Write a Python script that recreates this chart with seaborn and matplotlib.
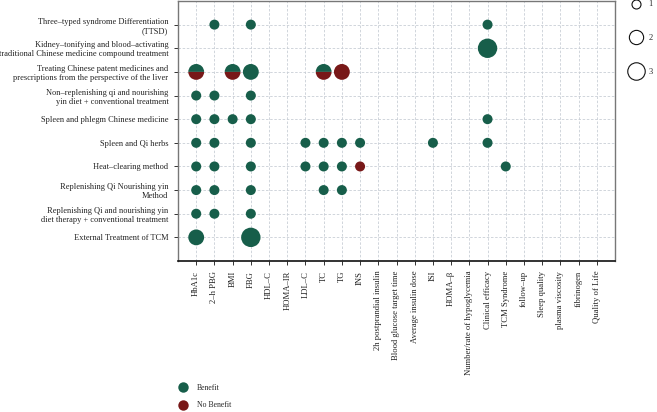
import numpy as np
import pandas as pd
import seaborn as sns
import matplotlib.pyplot as plt
from matplotlib.markers import MarkerStyle
from matplotlib.lines import Line2D

# ---------------- data ----------------
treatments = [
    "Three–typed syndrome Differentiation\n(TTSD)",
    "Kidney–tonifying and blood–activating\ntraditional Chinese medicine compound treatment",
    "Treating Chinese patent medicines and\nprescriptions from the perspective of the liver",
    "Non–replenishing qi and nourishing\nyin diet + conventional treatment",
    "Spleen and phlegm Chinese medicine",
    "Spleen and Qi herbs",
    "Heat–clearing method",
    "Replenishing Qi Nourishing yin\nMethod",
    "Replenishing Qi and nourishing yin\ndiet therapy + conventional treatment",
    "External Treatment of TCM",
]
outcomes = [
    "HbA1c", "2–h PBG", "BMI", "FBG", "HDL–C", "HOMA–IR", "LDL–C", "TC", "TG", "INS",
    "2h postprandial insulin", "Blood glucose target time", "Average insulin dose", "ISI",
    "HOMA–β", "Number/rate of hypoglycemia", "Clinical efficacy", "TCM Syndrome",
    "follow–up", "Sleep quality", "plasma viscosity", "fibrinogen", "Quality of Life",
]

# observations: treatment index, outcome name, number of benefit / no-benefit studies
obs_treatment = [0, 0, 0,
                 1,
                 2, 2, 2, 2, 2,
                 3, 3, 3,
                 4, 4, 4, 4, 4,
                 5, 5, 5, 5, 5, 5, 5, 5, 5,
                 6, 6, 6, 6, 6, 6, 6, 6,
                 7, 7, 7, 7, 7,
                 8, 8, 8,
                 9, 9]
obs_outcome = ["2–h PBG", "FBG", "Clinical efficacy",
               "Clinical efficacy",
               "HbA1c", "BMI", "FBG", "TC", "TG",
               "HbA1c", "2–h PBG", "FBG",
               "HbA1c", "2–h PBG", "BMI", "FBG", "Clinical efficacy",
               "HbA1c", "2–h PBG", "FBG", "LDL–C", "TC", "TG", "INS", "ISI", "Clinical efficacy",
               "HbA1c", "2–h PBG", "FBG", "LDL–C", "TC", "TG", "INS", "TCM Syndrome",
               "HbA1c", "2–h PBG", "FBG", "TC", "TG",
               "HbA1c", "2–h PBG", "FBG",
               "HbA1c", "FBG"]
obs_benefit = [1, 1, 1,
               3,
               1, 1, 2, 1, 0,
               1, 1, 1,
               1, 1, 1, 1, 1,
               1, 1, 1, 1, 1, 1, 1, 1, 1,
               1, 1, 1, 1, 1, 1, 0, 1,
               1, 1, 1, 1, 1,
               1, 1, 1,
               2, 3]
obs_nobenefit = [0, 0, 0,
                 0,
                 1, 1, 0, 1, 2,
                 0, 0, 0,
                 0, 0, 0, 0, 0,
                 0, 0, 0, 0, 0, 0, 0, 0, 0,
                 0, 0, 0, 0, 0, 0, 1, 0,
                 0, 0, 0, 0, 0,
                 0, 0, 0,
                 0, 0]

size_levels = [1, 2, 3]
status_levels = ["Benefit", "No Benefit"]

# ---------------- styling ----------------
GREEN = "#175e4a"
RED = "#781818"
size_map = {1: 52, 2: 130, 3: 195}

sns.set_theme(style="white")
plt.rcParams["font.family"] = ["Liberation Serif", "DejaVu Serif"]

df = pd.DataFrame({
    "t": obs_treatment,
    "o": [outcomes.index(o) for o in obs_outcome],
    "b": obs_benefit,
    "nb": obs_nobenefit,
})
df["n"] = df["b"] + df["nb"]
df["status"] = np.where(df["nb"] == 0, "Benefit",
                        np.where(df["b"] == 0, "No Benefit", "Mixed"))

fig = plt.figure(figsize=(6.57, 4.12), dpi=100)
ax = fig.add_axes([178 / 657, 1 - 261 / 412, (615 - 178) / 657, (261 - 1) / 412])

# grid
ax.set_xticks(range(len(outcomes)))
ax.set_yticks(range(len(treatments)))
ax.grid(True, color="#c9ced6", linestyle=(0, (3, 2)), linewidth=0.6)
ax.set_axisbelow(True)

pure = df[df["status"] != "Mixed"]
sns.scatterplot(data=pure, x="o", y="t", hue="status", size="n",
                palette={"Benefit": GREEN, "No Benefit": RED},
                sizes=size_map, size_order=size_levels,
                linewidth=0, legend=False, ax=ax)

mixed = df[df["status"] == "Mixed"]
sns.scatterplot(data=mixed, x="o", y="t", size="n", sizes=size_map,
                size_order=size_levels, color=GREEN,
                marker=MarkerStyle("o", fillstyle="top"),
                linewidth=0, legend=False, ax=ax)
sns.scatterplot(data=mixed, x="o", y="t", size="n", sizes=size_map,
                size_order=size_levels, color=RED,
                marker=MarkerStyle("o", fillstyle="bottom"),
                linewidth=0, legend=False, ax=ax)

ax.set_xlim(-1, len(outcomes))
ax.set_ylim(len(treatments), -1)
ax.set_xticklabels(outcomes, rotation=90, fontsize=6.2, color="#222222")
ax.set_yticklabels(treatments, fontsize=6.0, color="#222222")
ax.set_xlabel("")
ax.set_ylabel("")
ax.tick_params(axis="both", length=3, width=0.7, color="#333333", pad=4, bottom=True, left=True)

for side in ["top", "right", "left"]:
    ax.spines[side].set_color("#777777")
    ax.spines[side].set_linewidth(1.0)
ax.spines["bottom"].set_color("#111111")
ax.spines["bottom"].set_linewidth(1.2)

# colour legend (bottom-left)
handles_c = [Line2D([], [], marker="o", linestyle="", markersize=7.5,
                    markerfacecolor=c, markeredgewidth=0)
             for c in (GREEN, RED)]
fig.legend(handles_c, status_levels, loc="upper left",
           bbox_to_anchor=(175 / 657, 1 - 384 / 412), frameon=False,
           fontsize=5.6, handletextpad=0.8, labelspacing=1.2,
           borderpad=0, borderaxespad=0)

# size legend (top-right)
handles_s = [Line2D([], [], marker="o", linestyle="", markersize=np.sqrt(size_map[s]) * 0.9,
                    markerfacecolor="none", markeredgecolor="#111111", markeredgewidth=0.8)
             for s in size_levels]
fig.legend(handles_s, [str(s) for s in size_levels], loc="upper left",
           bbox_to_anchor=(632 / 657, 1 - 0.5 / 412), frameon=False,
           fontsize=6, handletextpad=1.0, labelspacing=3.1,
           borderpad=0, borderaxespad=0, handlelength=1.0)

fig.savefig("out.png", dpi=100)
